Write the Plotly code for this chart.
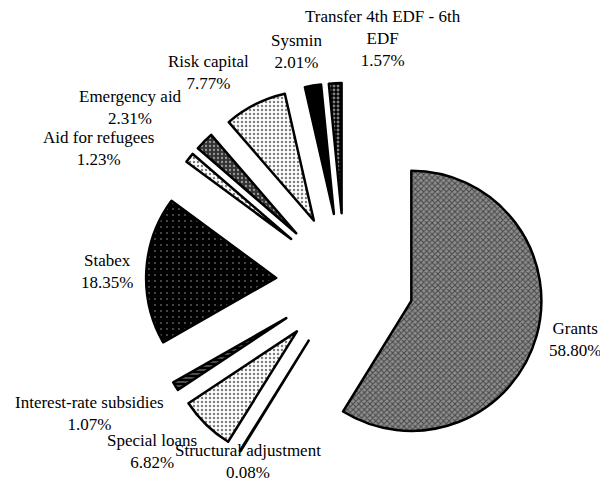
import plotly.graph_objects as go

# EDF resources breakdown, clockwise from 12 o'clock
labels = [
    "Grants",
    "Structural adjustment",
    "Special loans",
    "Interest-rate subsidies",
    "Stabex",
    "Aid for refugees",
    "Emergency aid",
    "Risk capital",
    "Sysmin",
    "Transfer 4th EDF - 6th EDF",
]
shares = [58.80, 0.08, 6.82, 1.07, 18.35, 1.23, 2.31, 7.77, 2.01, 1.57]

# label anchor positions in pixels (x, y from top) on the 608x491 page
label_pos = [
    (575, 339),
    (248, 461),
    (152, 451),
    (89, 413),
    (107, 271),
    (98, 148),
    (130, 107),
    (208, 72),
    (297, 51),
    (383, 39),
]

# the page body has an 8px margin all round, keep the figure inside it
OFF = 8
W, H = 608 - 2 * OFF, 491 - 2 * OFF

# black & white print look: grey fills with dot / hatch patterns
bg = ["#8e8e8e", "white", "white", "black", "black", "white", "#333333", "white", "black", "black"]
fg = ["black", "black", "black", "white", "#bbbbbb", "black", "white", "black", "black", "white"]
shape = ["x", "", ".", "-", ".", ".", ".", ".", "", "."]
psize = [4, 4, 4, 4, 6, 4, 4, 4, 4, 4]
solid = [0.45, 0.3, 0.3, 0.3, 0.08, 0.3, 0.25, 0.3, 0.3, 0.4]

# every slice pulled out of the centre
pull = [0.53] * len(shares)

# pie centre ~ (345, 282) px on the page, outer extent incl. pull ~ 199 px
cx, cy, half = 345 - OFF, 282 - OFF, 199
dom_x = [(cx - half) / W, (cx + half) / W]
dom_y = [1 - (cy + half) / H, 1 - (cy - half) / H]

fig = go.Figure(
    go.Pie(
        labels=labels,
        values=shares,
        sort=False,
        direction="clockwise",
        rotation=0,
        pull=pull,
        textinfo="none",
        hoverinfo="label+percent",
        showlegend=False,
        domain=dict(x=dom_x, y=dom_y),
        marker=dict(
            colors=bg,
            line=dict(color="black", width=2.5),
            pattern=dict(shape=shape, bgcolor=bg, fgcolor=fg, size=psize, solidity=solid, fillmode="overlay"),
        ),
    )
)

annotations = []
for name, val, (px_, py_) in zip(labels, shares, label_pos):
    text = name.replace("6th EDF", "6th<br>EDF") + f"<br>{val:.2f}%"
    annotations.append(
        dict(
            x=(px_ - OFF) / W,
            y=1 - (py_ - OFF) / H,
            xref="paper",
            yref="paper",
            text=text,
            showarrow=False,
            xanchor="center",
            yanchor="middle",
            align="center",
            font=dict(family="Liberation Serif", size=17, color="black"),
        )
    )

fig.update_layout(
    width=W,
    height=H,
    margin=dict(l=0, r=0, t=0, b=0),
    paper_bgcolor="white",
    plot_bgcolor="white",
    annotations=annotations,
)

fig.write_html("out.html")
